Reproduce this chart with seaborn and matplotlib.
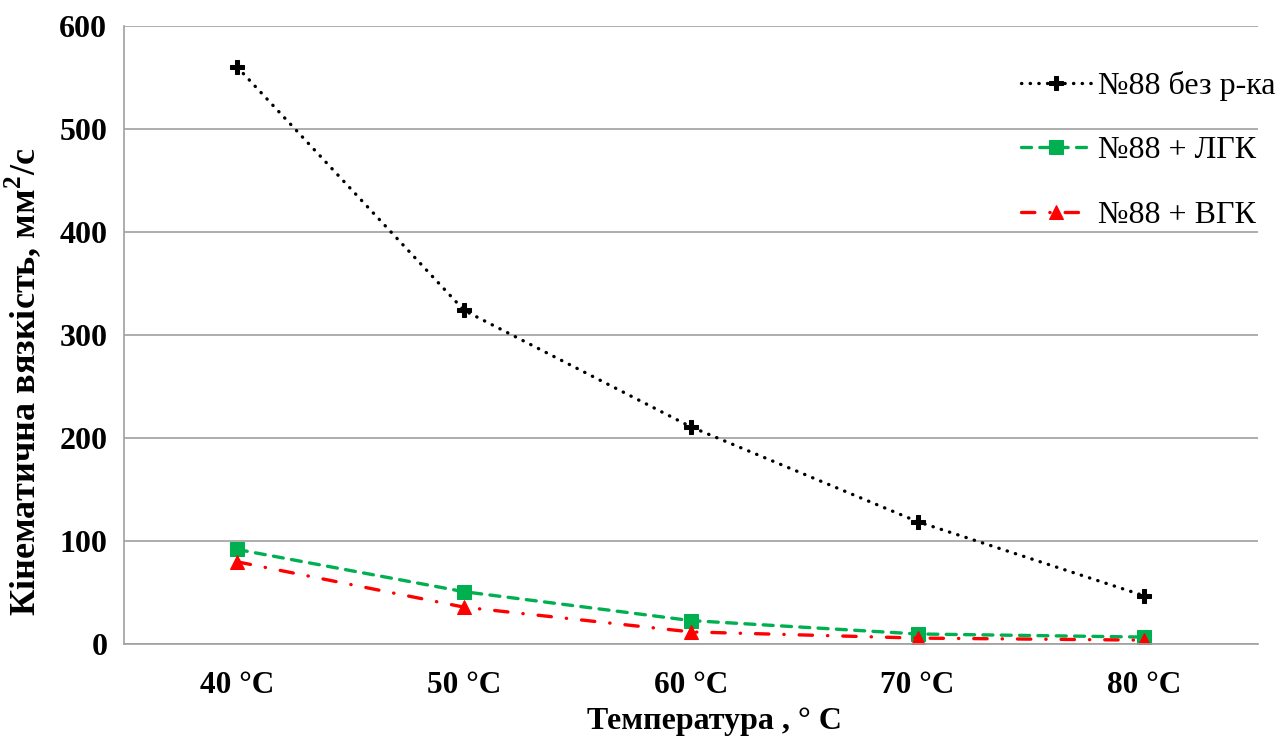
import numpy as np
import pandas as pd
import matplotlib
matplotlib.use("Agg")
import matplotlib.pyplot as plt
import seaborn as sns

temps = ["40 °C", "50 °C", "60 °C", "70 °C", "80 °C"]
no_reagent = [560, 324, 211, 119, 47]
plus_lgk = [92, 51, 23, 10, 7]
plus_vgk = [80, 36, 12, 6, 4]

labels = ["№88 без р-ка", "№88 + ЛГК", "№88 + ВГК"]
colors = ["#000000", "#00b050", "#ff0000"]

sns.set_style("white")
plt.rcParams.update({
    "font.family": ["Liberation Serif", "DejaVu Serif"],
    "mathtext.fontset": "custom",
    "mathtext.rm": "Liberation Serif",
    "mathtext.bf": "Liberation Serif:bold",
    "text.color": "black",
    "axes.labelcolor": "black",
})

fig = plt.figure(figsize=(12.81, 7.38), dpi=100)
ax = fig.add_axes([0.0968, 0.127, 0.885, 0.8378])

x = np.arange(len(temps))
series = [no_reagent, plus_lgk, plus_vgk]
styles = [
    dict(linestyle=(0, (0.1, 2.5)), marker="P", markersize=10),
    dict(linestyle=(0, (3, 2.5)), marker="s", markersize=10),
    dict(linestyle=(0, (4, 4.5, 0.1, 4.5)), marker="^", markersize=9.5),
]
for vals, lab, col, st in zip(series, labels, colors, styles):
    df = pd.DataFrame({"x": x, "y": vals})
    sns.lineplot(data=df, x="x", y="y", ax=ax, color=col, label=lab,
                 linewidth=2.4, markeredgecolor=col, dash_capstyle="round", **st)

ax.set_xlim(-0.5, len(temps) - 0.5)
ax.set_ylim(0, 600)
ax.set_yticks(np.arange(0, 601, 100))
ax.set_xticks(x)
ax.set_xticklabels(temps, fontsize=22.5, fontweight="bold")
ax.set_xticks(np.arange(-0.5, len(temps), 1), minor=True)
for t in ax.get_yticklabels():
    t.set_fontsize(23)
    t.set_fontweight("bold")

ax.grid(axis="y", color="#a0a0a0", linewidth=1.2)
ax.grid(axis="x", visible=False)
ax.set_axisbelow(True)
for s in ["top", "right"]:
    ax.spines[s].set_visible(False)
for s in ["left", "bottom"]:
    ax.spines[s].set_color("#a0a0a0")
    ax.spines[s].set_linewidth(1.2)

ax.tick_params(axis="x", which="major", length=0, pad=19, labelcolor="black")
ax.tick_params(axis="x", which="minor", length=6.5, color="#a0a0a0", width=1.2, direction="out")
ax.tick_params(axis="y", length=4.5, color="#a0a0a0", width=1.2, direction="out", pad=7.5,
               labelcolor="black")

ax.set_xlabel("Температура , ° С", fontsize=23, fontweight="bold")
ax.xaxis.set_label_coords(0.521, -0.101)
ax.set_ylabel("Кінематична вязкість, мм$^{\\mathbf{2}}$/с", fontsize=26, fontweight="bold")
ax.yaxis.set_label_coords(-0.0714, 0.424)

ax.legend(loc="upper left", bbox_to_anchor=(0.797, 0.904), bbox_transform=fig.transFigure,
          frameon=False, fontsize=23, labelspacing=1.1, handlelength=2.2,
          handletextpad=0.2, borderpad=0, borderaxespad=0)

fig.savefig("out.png", dpi=100)
